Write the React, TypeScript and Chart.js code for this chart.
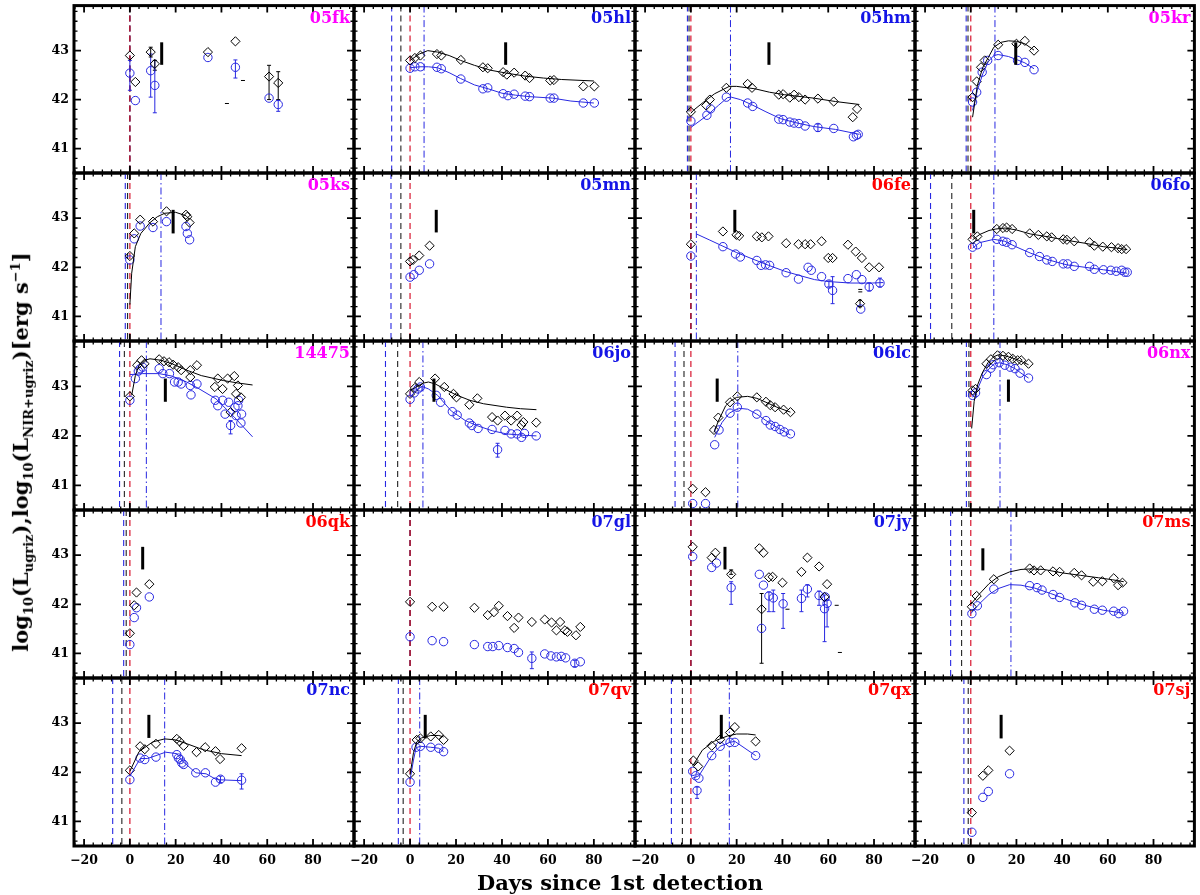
import React, { useEffect, useRef } from "react";
import { Chart, registerables } from "chart.js";
Chart.register(...registerables);

type P = [number, number];
type E = [number, number, number, string];

// ---------------- data (days since 1st detection, log10 L) ----------------
const sn05fk_nir: P[] = [[0,42.9],[2.4,42.36],[9.1,42.97],[10.9,42.73],[34.1,42.97],[46.1,43.19],[60.8,42.47],[64.8,42.34]];
const sn05fk_ug: P[] = [[0,42.54],[2.4,41.98],[9.1,42.59],[10.9,42.29],[34.1,42.86],[46.1,42.66],[60.8,42.03],[64.8,41.9]];
const sn05fk_err: E[] = [[0,42.19,42.8,"b"],[9.1,42.05,42.93,"b"],[10.9,41.73,42.8,"b"],[46.1,42.44,42.81,"b"],[64.8,41.76,41.98,"b"],[9.1,42.87,43.07,"k"],[10.9,42.6,42.8,"k"],[60.8,42.0,42.7,"k"],[64.8,42.0,42.57,"k"]];
const sn05fk_marks: P[] = [[49.4,42.39],[42.4,41.92]];

const sn05hl_nir: P[] = [[0,42.8],[2.1,42.85],[4.5,42.9],[11.7,42.93],[13.6,42.9],[22.1,42.81],[31.7,42.66],[33.8,42.64],[40.5,42.56],[42.1,42.51],[45.3,42.55],[50.1,42.49],[52,42.44],[61,42.39],[62.6,42.4],[75.4,42.27],[80.2,42.27]];
const sn05hl_ug: P[] = [[0,42.64],[2.1,42.67],[4.5,42.67],[11.7,42.66],[13.6,42.63],[22.1,42.42],[31.7,42.22],[33.8,42.24],[40.5,42.12],[42.6,42.08],[45.3,42.11],[50.1,42.07],[52,42.06],[61,42.03],[62.6,42.03],[75.4,41.93],[80.2,41.93]];
const sn05hl_fitNir: P[] = [[0,42.8],[4,42.93],[7.7,43.0],[12,42.97],[17,42.9],[22,42.8],[28,42.7],[35,42.6],[42,42.54],[50,42.48],[58,42.44],[66,42.41],[80,42.38]];
const sn05hl_fitUg: P[] = [[0,42.65],[4,42.67],[8,42.67],[12,42.65],[17,42.55],[22,42.43],[28,42.3],[34,42.22],[40,42.13],[46,42.09],[52,42.06],[62,42.03],[70,41.97],[80,41.93]];

const sn05hm_nir: P[] = [[0,41.75],[6.7,41.88],[8.3,42.0],[15.5,42.24],[24.8,42.32],[26.7,42.24],[38.4,42.1],[40.3,42.11],[43.2,42.04],[45.1,42.1],[47.2,42.05],[49.9,42.0],[55.5,42.02],[62.4,41.96],[70.7,41.64],[72.6,41.81]];
const sn05hm_ug: P[] = [[0,41.56],[7,41.68],[8.6,41.81],[15.5,42.05],[24.8,41.93],[27,41.86],[38.4,41.6],[40.3,41.59],[43.2,41.54],[45.1,41.52],[47.2,41.51],[49.9,41.46],[55.5,41.43],[62.4,41.41],[71,41.24],[72.3,41.27],[73.1,41.29]];
const sn05hm_fitNir: P[] = [[0,41.72],[1.1,41.78],[5.6,41.95],[10.4,42.12],[16.8,42.27],[20,42.27],[28,42.22],[34.4,42.15],[40.8,42.1],[53.6,42.03],[63.2,41.96],[73.6,41.9]];
const sn05hm_fitUg: P[] = [[0,41.43],[7.2,41.68],[12,41.88],[16,42.04],[17.6,42.05],[21.6,42.0],[26.4,41.9],[32.8,41.75],[39.2,41.61],[45.6,41.53],[53.6,41.45],[63.2,41.39],[73.6,41.29]];
const sn05hm_err: E[] = [[55.5,41.35,41.5,"b"]];

const sn05kr_nir: P[] = [[0.8,42.05],[2.6,42.37],[4.5,42.66],[6.1,42.8],[12,43.12],[20,43.14],[23.7,43.2],[27.7,43.0]];
const sn05kr_ug: P[] = [[0.8,41.95],[2.6,42.15],[5,42.56],[7.4,42.8],[12,42.9],[20.5,42.8],[23.7,42.76],[27.7,42.61]];
const sn05kr_fitNir: P[] = [[0.8,41.64],[2.9,42.29],[5.3,42.66],[7.7,42.86],[10.1,43.07],[13.3,43.17],[16.5,43.2],[20,43.19],[23.7,43.14],[27.7,43.01]];
const sn05kr_fitUg: P[] = [[0.8,41.78],[2.9,42.19],[5.3,42.53],[7.7,42.78],[10.1,42.9],[12,42.92],[16.5,42.88],[20.5,42.81],[23.7,42.75],[27.7,42.63]];

const sn05ks_nir: P[] = [[0,42.23],[1.9,42.69],[4.5,42.97],[10.1,42.93],[16,43.14],[24.5,43.07],[25.1,43.03],[26.1,42.91]];
const sn05ks_ug: P[] = [[0,42.15],[1.9,42.58],[4.5,42.84],[10.1,42.81],[16,42.93],[24.5,42.83],[25.1,42.69],[26.1,42.56]];
const sn05ks_fitNir: P[] = [[0,41.24],[0.8,41.88],[2.4,42.42],[4.8,42.69],[8.8,42.91],[12,43.03],[15.2,43.1],[20,43.12],[24.5,43.05],[26,42.98]];

const sn05mn_nir: P[] = [[0,42.12],[1.3,42.15],[4,42.24],[8.5,42.44]];
const sn05mn_ug: P[] = [[0,41.8],[1.6,41.85],[4,41.94],[8.5,42.07]];

const sn06fe_nir: P[] = [[0,42.47],[14,42.73],[19.9,42.66],[21.1,42.64],[28.8,42.63],[31,42.61],[33.9,42.63],[41.6,42.49],[47,42.47],[49.9,42.47],[52.3,42.47],[57.1,42.53],[60,42.19],[61.9,42.19],[68.6,42.46],[72,42.32],[74.7,42.19],[77.9,42.0],[82.2,42.0],[73.9,41.26]];
const sn06fe_ug: P[] = [[0,42.23],[14,42.42],[19.5,42.27],[21.6,42.21],[28.8,42.14],[30.7,42.04],[32.6,42.05],[34.4,42.04],[41.6,41.89],[47,41.76],[51.2,42.0],[52.6,41.94],[57.1,41.81],[60.3,41.66],[61.9,41.53],[68.6,41.77],[72.3,41.85],[74.7,41.75],[74.2,41.15],[77.9,41.6],[82.6,41.68]];
const sn06fe_fitUg: P[] = [[2.4,42.68],[8,42.56],[14,42.43],[20,42.3],[28,42.15],[34,42.04],[41,41.92],[47,41.84],[54,41.75],[60,41.71],[69.6,41.68],[79.2,41.68],[84,41.69]];
const sn06fe_err: E[] = [[61.9,41.26,41.81,"b"],[60.3,41.6,41.72,"b"],[77.9,41.52,41.68,"b"],[82.6,41.6,41.78,"b"],[73.9,41.2,41.33,"k"]];
const sn06fe_marks: P[] = [[74,41.55],[74,41.5]];

const sn06fo_nir: P[] = [[0.8,42.57],[2.9,42.63],[11.4,42.78],[14.1,42.8],[15.7,42.81],[18.1,42.78],[25.8,42.69],[29.6,42.66],[33.3,42.63],[35.4,42.61],[40.5,42.57],[42.1,42.56],[45.3,42.53],[52,42.51],[54.1,42.44],[57.8,42.42],[61.6,42.41],[64.5,42.39],[66.1,42.37],[68,42.37]];
const sn06fo_ug: P[] = [[0.8,42.41],[2.9,42.46],[11.4,42.57],[14.1,42.53],[15.7,42.51],[18.1,42.46],[25.8,42.3],[30.1,42.22],[33.3,42.15],[35.7,42.12],[40.5,42.07],[42.4,42.07],[45.3,42.02],[52,42.02],[54.1,41.96],[58.1,41.95],[61.3,41.94],[63.7,41.92],[66.1,41.94],[67.4,41.9],[68.5,41.9]];
const sn06fo_fitNir: P[] = [[0.8,42.56],[4,42.67],[8,42.75],[11,42.78],[15,42.8],[20,42.76],[26,42.68],[34,42.62],[42,42.55],[50,42.49],[58,42.42],[64,42.39],[68.5,42.36]];
const sn06fo_fitUg: P[] = [[0.8,42.39],[3.7,42.5],[10.1,42.57],[14.9,42.53],[19.7,42.42],[26.1,42.29],[34.1,42.15],[42.1,42.05],[50.1,42.0],[58.1,41.95],[68.5,41.88]];

const sn14475_nir: P[] = [[0,42.8],[3.2,43.43],[5.1,43.53],[6.4,43.46],[12.8,43.55],[14.9,43.51],[17.1,43.49],[18.9,43.44],[21.1,43.39],[22.4,43.33],[26.4,43.33],[29.3,43.43],[26.4,43.19],[38.4,43.16],[40.5,42.95],[42.7,43.16],[45.6,43.21],[37.1,42.99],[47.2,43.02],[48.5,42.78],[44,42.48],[46.4,42.85]];
const sn14475_ug: P[] = [[0,42.72],[2.4,43.16],[3.7,43.31],[4.5,43.36],[5.6,43.39],[12.8,43.36],[14.4,43.26],[17.3,43.26],[19.5,43.09],[21.1,43.09],[22.4,43.05],[26.4,43.02],[26.7,42.83],[29.3,43.05],[37.3,42.72],[38.4,42.61],[40.5,42.72],[41.6,42.44],[43.2,42.68],[44,42.21],[45.9,42.58],[46.4,42.41],[47.2,42.61],[47.5,42.72],[48.8,42.44],[48.5,42.26]];
const sn14475_fitNir: P[] = [[0.8,42.82],[2.4,43.22],[4,43.43],[6.4,43.53],[8.8,43.56],[13.6,43.53],[18.4,43.46],[24.8,43.33],[31.2,43.22],[40.8,43.12],[47.2,43.07],[53.6,43.03]];
const sn14475_fitUg: P[] = [[0,43.24],[5.6,43.26],[12.8,43.26],[18.4,43.21],[24.8,43.09],[29.6,42.97],[37.6,42.75],[45.6,42.38],[53.6,41.98]];
const sn14475_err: E[] = [[44,42.04,42.31,"b"]];

const sn06jo_nir: P[] = [[0,42.85],[2.1,42.97],[4,43.09],[10.9,43.16],[14.9,42.99],[18.9,42.85],[20.2,42.78],[25.8,42.63],[29.3,42.76],[35.7,42.38],[38.1,42.31],[41.3,42.41],[44,42.31],[46.6,42.41],[48.5,42.22],[49.3,42.28],[54.9,42.27]];
const sn06jo_ug: P[] = [[0,42.74],[1.8,42.87],[3.4,42.95],[4.5,42.99],[11.4,42.82],[13.3,42.68],[18.4,42.49],[20.5,42.42],[25.8,42.26],[26.9,42.21],[29.6,42.15],[35.7,42.13],[38.1,41.72],[41.3,42.11],[44,42.04],[46.6,42.04],[48.5,41.97],[49.8,42.05],[54.9,42.0]];
const sn06jo_fitNir: P[] = [[0,42.92],[3,43.0],[6,43.07],[8,43.09],[11,43.05],[15,42.95],[20,42.83],[26,42.72],[32,42.65],[42,42.58],[48,42.55],[55,42.53]];
const sn06jo_fitUg: P[] = [[0,42.78],[3,42.94],[5.2,43.0],[8,42.95],[12,42.82],[18,42.5],[20,42.44],[24,42.31],[29,42.21],[36,42.1],[42,42.04],[50,42.01],[55,42.0]];
const sn06jo_err: E[] = [[38.1,41.57,41.85,"b"]];

const sn06lc_nir: P[] = [[0.8,40.93],[6.4,40.86],[10.1,42.12],[12,42.37],[17.1,42.68],[20.3,42.8],[28.8,42.78],[32.8,42.69],[34.7,42.62],[36.8,42.58],[40.5,42.53],[43.5,42.48]];
const sn06lc_ug: P[] = [[0.8,40.63],[6.4,40.63],[10.4,41.82],[12.3,42.12],[17.1,42.46],[20.3,42.58],[28.8,42.44],[32.8,42.31],[34.7,42.22],[36.8,42.19],[38.9,42.13],[40.8,42.08],[43.5,42.04]];
const sn06lc_fitNir: P[] = [[10.1,42.07],[12,42.3],[15.2,42.61],[17.5,42.71],[20,42.78],[24.8,42.8],[28.8,42.76],[32.8,42.68],[37.6,42.58],[43.5,42.48]];
const sn06lc_fitUg: P[] = [[10.4,41.97],[13.6,42.27],[16.8,42.46],[20.8,42.56],[24.8,42.54],[28.8,42.44],[32.8,42.31],[37.6,42.17],[43.5,42.02]];

const sn06nx_nir: P[] = [[0.8,42.92],[2.1,42.95],[6.9,43.46],[8.8,43.55],[11.7,43.63],[14.1,43.62],[16.5,43.6],[18.4,43.56],[20.5,43.53],[22.1,43.53],[25.3,43.46]];
const sn06nx_ug: P[] = [[0.8,42.82],[2.1,42.87],[6.9,43.24],[8.8,43.37],[9.8,43.44],[12.5,43.48],[14.9,43.43],[17.3,43.39],[19.4,43.36],[21.6,43.27],[25.3,43.17]];
const sn06nx_fitNir: P[] = [[0.4,42.15],[1.5,42.7],[3,43.03],[5,43.27],[7.5,43.48],[10,43.6],[12,43.64],[15,43.62],[18,43.58],[21,43.53],[25.3,43.44]];
const sn06nx_fitUg: P[] = [[0.8,42.78],[3,42.95],[5.3,43.2],[8,43.36],[10.4,43.46],[12.5,43.48],[16,43.44],[19.4,43.36],[22,43.27],[25.3,43.17]];

const sn06qk_nir: P[] = [[0,41.41],[1.9,41.98],[2.9,42.24],[8.5,42.41]];
const sn06qk_ug: P[] = [[0,41.18],[1.9,41.73],[2.9,41.93],[8.5,42.15]];

const sn07gl_nir: P[] = [[0,42.05],[9.6,41.95],[14.6,41.95],[28,41.93],[33.8,41.78],[36.5,41.84],[38.6,41.97],[42.4,41.76],[45.3,41.52],[47.2,41.73],[53,41.64],[58.6,41.69],[61.6,41.63],[65.3,41.64],[63.7,41.47],[67.4,41.47],[68.5,41.44],[72.2,41.37],[74.1,41.54]];
const sn07gl_ug: P[] = [[0,41.34],[9.6,41.26],[14.6,41.24],[28,41.18],[33.8,41.14],[36,41.14],[38.6,41.16],[42.4,41.12],[45.3,41.1],[47.2,41.02],[53,40.9],[58.6,40.99],[61.3,40.95],[63.7,40.93],[65.8,40.94],[67.7,40.91],[71.7,40.8],[74.1,40.83]];
const sn07gl_err: E[] = [[53,40.69,41.03,"b"],[71.7,40.73,40.86,"b"]];

const sn07jy_nir: P[] = [[0.8,43.17],[9.1,42.95],[10.7,43.05],[17.6,42.61],[29.9,43.14],[31.7,43.05],[34.1,42.55],[35.7,42.56],[40,42.44],[30.9,41.9],[48.3,42.66],[50.9,42.95],[56,42.77],[59.5,42.41],[58.4,42.15]];
const sn07jy_ug: P[] = [[0.8,42.97],[9.1,42.75],[11.2,42.84],[17.6,42.34],[29.9,42.61],[31.7,42.39],[30.9,41.51],[34.1,42.17],[36,42.13],[40.3,42.01],[48.3,42.12],[50.9,42.31],[56,42.18],[58.4,41.91],[59.5,42.02],[58.7,42.15]];
const sn07jy_err: E[] = [[17.6,42.0,42.46,"b"],[30.9,40.8,42.22,"k"],[34.1,41.85,42.25,"b"],[36,41.85,42.29,"b"],[40.3,41.51,42.22,"b"],[48.3,41.85,42.29,"b"],[50.9,42.15,42.4,"b"],[56,41.98,42.27,"b"],[58.4,41.24,42.19,"b"],[59.5,41.54,42.08,"b"],[17.6,42.61,42.7,"k"]];
const sn07jy_marks: P[] = [[42.2,41.9],[63.7,41.98],[65.1,41.02]];

const sn07ms_nir: P[] = [[0.5,41.95],[2.6,42.17],[10.1,42.51],[25.8,42.73],[27.7,42.69],[30.6,42.69],[36,42.67],[38.9,42.66],[45.3,42.64],[48.5,42.59],[53.6,42.46],[57.6,42.47],[62.6,42.53],[64.5,42.39],[66.4,42.44]];
const sn07ms_ug: P[] = [[0.5,41.81],[2.9,41.97],[10.1,42.31],[25.8,42.38],[29,42.34],[31.2,42.29],[36,42.2],[38.9,42.14],[45.6,42.03],[48.5,41.98],[54.1,41.9],[57.6,41.88],[62.6,41.86],[64.8,41.81],[66.9,41.86]];
const sn07ms_fitNir: P[] = [[0,42.0],[4,42.22],[8,42.42],[12,42.56],[17,42.66],[22,42.71],[26,42.72],[32,42.71],[40,42.64],[48,42.59],[56,42.54],[62,42.5],[67,42.46]];
const sn07ms_fitUg: P[] = [[0,41.81],[4,42.02],[8,42.2],[12,42.32],[17,42.4],[22,42.39],[28,42.33],[35,42.22],[42,42.1],[50,41.98],[58,41.88],[64,41.84],[67,41.82]];

const sn07nc_nir: P[] = [[0,42.04],[4.5,42.53],[6.5,42.47],[11.4,42.58],[20.5,42.68],[21.7,42.63],[23.5,42.54],[29.1,42.41],[32.9,42.51],[37.4,42.43],[39.4,42.27],[48.8,42.49]];
const sn07nc_ug: P[] = [[0,41.85],[4.5,42.29],[6.5,42.26],[11.4,42.31],[20.5,42.36],[21.2,42.29],[22,42.26],[22.7,42.19],[23.5,42.16],[28.8,41.99],[33,41.99],[37.4,41.8],[39.6,41.86],[48.8,41.84]];
const sn07nc_fitNir: P[] = [[0,42.02],[4,42.42],[10,42.62],[15.2,42.68],[20,42.66],[25,42.58],[32,42.46],[40,42.38],[48.8,42.34]];
const sn07nc_fitUg: P[] = [[0,41.92],[4.5,42.28],[7.6,42.28],[11.4,42.34],[15.6,42.41],[20.5,42.38],[22.7,42.24],[28.8,41.99],[33.3,41.97],[37.9,41.85],[48.8,41.83]];
const sn07nc_err: E[] = [[48.8,41.66,41.97,"b"],[39.6,41.79,41.92,"b"]];

const sn07qv_nir: P[] = [[0,41.97],[2.9,42.66],[4.5,42.69],[9,42.73],[12.5,42.76],[14.6,42.66]];
const sn07qv_ug: P[] = [[0,41.8],[2.6,42.51],[4.5,42.53],[9,42.51],[12.5,42.49],[14.6,42.42]];
const sn07qv_fitNir: P[] = [[0,41.95],[1.5,42.4],[2.9,42.62],[5,42.7],[9,42.75],[12.5,42.75],[14.6,42.72]];
const sn07qv_fitUg: P[] = [[0,41.85],[1.5,42.25],[2.6,42.5],[4.5,42.53],[9,42.51],[12.5,42.49],[14.6,42.42]];

const sn07qx_nir: P[] = [[1.1,42.24],[3.2,42.12],[9.1,42.54],[12.8,42.67],[17.1,42.81],[19.2,42.92],[28.3,42.63]];
const sn07qx_ug: P[] = [[0.8,42.02],[2.1,41.93],[3.5,41.88],[2.7,41.63],[9.1,42.34],[12.8,42.53],[17.1,42.61],[19.2,42.61],[28.3,42.34]];
const sn07qx_fitNir: P[] = [[0.8,42.13],[5,42.45],[10,42.63],[16,42.74],[20,42.78],[24.8,42.78],[28.3,42.76]];
const sn07qx_fitUg: P[] = [[0.8,41.88],[3.5,41.93],[9.1,42.34],[12.8,42.53],[17.1,42.61],[19.2,42.63],[28.3,42.34]];
const sn07qx_err: E[] = [[2.7,41.47,41.7,"b"]];

const sn07sj_nir: P[] = [[0.5,41.18],[5.3,41.93],[7.7,42.04],[17,42.44]];
const sn07sj_ug: P[] = [[0.5,40.78],[5.3,41.49],[7.7,41.61],[17,41.97]];

// vertical lines: [blue dashed, black dashed, red dashed, blue dash-dot]; time markers [x, yTop, yBottom]
const VL_05fk = [0, 0, 0, null]; const BAR_05fk = [13.9, 43.17, 42.71];
const VL_05hl = [-8, -4, 0, 6.1]; const BAR_05hl = [41.6, 43.17, 42.71];
const VL_05hm = [-1.5, -0.8, 0, 17.3]; const BAR_05hm = [34.1, 43.17, 42.71];
const VL_05kr = [-2, -1.2, 0, 10.6]; const BAR_05kr = [19.7, 43.17, 42.71];
const VL_05ks = [-2, -1, 0, 13.6]; const BAR_05ks = [18.9, 43.17, 42.69];
const VL_05mn = [-8.3, -4, 0, null]; const BAR_05mn = [11.4, 43.17, 42.71];
const VL_06fe = [0, 0, 0, 2.4]; const BAR_06fe = [19.2, 43.17, 42.71];
const VL_06fo = [-17.6, -8.3, 0, 10.1]; const BAR_06fo = [1.3, 43.17, 42.69];
const VL_14475 = [-4.5, -2.4, 0, 7.2]; const BAR_14475 = [15.5, 43.16, 42.69];
const VL_06jo = [-10.7, -5.4, 0, 5.6]; const BAR_06jo = [10.4, 43.16, 42.69];
const VL_06lc = [-6.9, -3, 0, 20.5]; const BAR_06lc = [11.5, 43.16, 42.69];
const VL_06nx = [-1.9, -0.8, 0, 12.8]; const BAR_06nx = [16.5, 43.14, 42.69];
const VL_06qk = [-2.7, -1.6, 0, null]; const BAR_06qk = [5.6, 43.17, 42.71];
const VL_07gl = [0, 0, 0, null]; const BAR_07gl: number[] | null = null;
const VL_07jy = [0, 0, 0, null]; const BAR_07jy = [14.9, 43.17, 42.71];
const VL_07ms = [-8.8, -4, 0, 17.6]; const BAR_07ms = [5.3, 43.14, 42.69];
const VL_07nc = [-7.5, -3.5, 0, 15.2]; const BAR_07nc = [8.3, 43.17, 42.7];
const VL_07qv = [-5.1, -3, 0, 4.2]; const BAR_07qv = [6.6, 43.17, 42.69];
const VL_07qx = [-8.5, -3.7, 0, 16.8]; const BAR_07qx = [13.3, 43.17, 42.69];
const VL_07sj = [-3, -1.1, 0, null]; const BAR_07sj = [13.3, 43.17, 42.69];

const X_TICK_STEP = 20;
const Y_TICK_STEP = 1;

// ---------------- styles / layout ----------------
const MAG = "#ff00ff";
const BLU = "#1414e6";
const RED = "#ff0000";
const LINE_BLUE = "rgb(40,40,225)";
const FONT = '"DejaVu Serif", "Liberation Serif", serif';

const COLS = [74, 354, 635, 915, 1195];
const ROWS = [5, 173, 341, 510, 678, 846];
const X_MIN = -24.4, X_MAX = 97.9, Y_MIN = 40.5, Y_MAX = 43.92;

interface Panel {
  name: string; color: string; nir: P[]; ug: P[];
  fitNir?: P[]; fitUg?: P[]; err?: E[]; marks?: P[];
  bar: number[] | null; vl: (number | null)[];
}

const PANELS: Panel[] = [
  { name: "05fk", color: MAG, nir: sn05fk_nir, ug: sn05fk_ug, err: sn05fk_err, marks: sn05fk_marks, bar: BAR_05fk, vl: VL_05fk },
  { name: "05hl", color: BLU, nir: sn05hl_nir, ug: sn05hl_ug, fitNir: sn05hl_fitNir, fitUg: sn05hl_fitUg, bar: BAR_05hl, vl: VL_05hl },
  { name: "05hm", color: BLU, nir: sn05hm_nir, ug: sn05hm_ug, fitNir: sn05hm_fitNir, fitUg: sn05hm_fitUg, err: sn05hm_err, bar: BAR_05hm, vl: VL_05hm },
  { name: "05kr", color: MAG, nir: sn05kr_nir, ug: sn05kr_ug, fitNir: sn05kr_fitNir, fitUg: sn05kr_fitUg, bar: BAR_05kr, vl: VL_05kr },
  { name: "05ks", color: MAG, nir: sn05ks_nir, ug: sn05ks_ug, fitNir: sn05ks_fitNir, bar: BAR_05ks, vl: VL_05ks },
  { name: "05mn", color: BLU, nir: sn05mn_nir, ug: sn05mn_ug, bar: BAR_05mn, vl: VL_05mn },
  { name: "06fe", color: RED, nir: sn06fe_nir, ug: sn06fe_ug, fitUg: sn06fe_fitUg, err: sn06fe_err, marks: sn06fe_marks, bar: BAR_06fe, vl: VL_06fe },
  { name: "06fo", color: BLU, nir: sn06fo_nir, ug: sn06fo_ug, fitNir: sn06fo_fitNir, fitUg: sn06fo_fitUg, bar: BAR_06fo, vl: VL_06fo },
  { name: "14475", color: MAG, nir: sn14475_nir, ug: sn14475_ug, fitNir: sn14475_fitNir, fitUg: sn14475_fitUg, err: sn14475_err, bar: BAR_14475, vl: VL_14475 },
  { name: "06jo", color: BLU, nir: sn06jo_nir, ug: sn06jo_ug, fitNir: sn06jo_fitNir, fitUg: sn06jo_fitUg, err: sn06jo_err, bar: BAR_06jo, vl: VL_06jo },
  { name: "06lc", color: BLU, nir: sn06lc_nir, ug: sn06lc_ug, fitNir: sn06lc_fitNir, fitUg: sn06lc_fitUg, bar: BAR_06lc, vl: VL_06lc },
  { name: "06nx", color: MAG, nir: sn06nx_nir, ug: sn06nx_ug, fitNir: sn06nx_fitNir, fitUg: sn06nx_fitUg, bar: BAR_06nx, vl: VL_06nx },
  { name: "06qk", color: RED, nir: sn06qk_nir, ug: sn06qk_ug, bar: BAR_06qk, vl: VL_06qk },
  { name: "07gl", color: BLU, nir: sn07gl_nir, ug: sn07gl_ug, err: sn07gl_err, bar: BAR_07gl, vl: VL_07gl },
  { name: "07jy", color: BLU, nir: sn07jy_nir, ug: sn07jy_ug, err: sn07jy_err, marks: sn07jy_marks, bar: BAR_07jy, vl: VL_07jy },
  { name: "07ms", color: RED, nir: sn07ms_nir, ug: sn07ms_ug, fitNir: sn07ms_fitNir, fitUg: sn07ms_fitUg, bar: BAR_07ms, vl: VL_07ms },
  { name: "07nc", color: BLU, nir: sn07nc_nir, ug: sn07nc_ug, fitNir: sn07nc_fitNir, fitUg: sn07nc_fitUg, err: sn07nc_err, bar: BAR_07nc, vl: VL_07nc },
  { name: "07qv", color: RED, nir: sn07qv_nir, ug: sn07qv_ug, fitNir: sn07qv_fitNir, fitUg: sn07qv_fitUg, bar: BAR_07qv, vl: VL_07qv },
  { name: "07qx", color: RED, nir: sn07qx_nir, ug: sn07qx_ug, fitNir: sn07qx_fitNir, fitUg: sn07qx_fitUg, err: sn07qx_err, bar: BAR_07qx, vl: VL_07qx },
  { name: "07sj", color: RED, nir: sn07sj_nir, ug: sn07sj_ug, bar: BAR_07sj, vl: VL_07sj },
];

const toXY = (a: P[]) => a.map(([x, y]) => ({ x, y }));

function makeDecor(p: Panel) {
  return {
    id: "decor_" + p.name,
    beforeDatasetsDraw(chart: any) {
      const ctx = chart.ctx;
      const xs = chart.scales.x, ys = chart.scales.y;
      const { top, bottom } = chart.chartArea;
      ctx.save();
      const styles: [string, number[], number][] = [
        [LINE_BLUE, [6, 4], 1.1],
        ["#222", [6, 4], 1.1],
        ["rgba(215,20,45,0.85)", [6, 4], 1.4],
        [LINE_BLUE, [7, 3, 1.5, 3], 1],
      ];
      p.vl.forEach((v, i) => {
        if (v === null || v === undefined) return;
        const px = xs.getPixelForValue(v);
        ctx.strokeStyle = styles[i][0];
        ctx.setLineDash(styles[i][1]);
        ctx.lineWidth = styles[i][2];
        ctx.beginPath();
        ctx.moveTo(px, top);
        ctx.lineTo(px, bottom);
        ctx.stroke();
      });
      ctx.setLineDash([]);
      (p.err || []).forEach(([x, lo, hi, c]) => {
        const px = xs.getPixelForValue(x);
        const y1 = ys.getPixelForValue(lo), y2 = ys.getPixelForValue(hi);
        ctx.strokeStyle = c === "k" ? "#000" : LINE_BLUE;
        ctx.lineWidth = 1;
        ctx.beginPath();
        ctx.moveTo(px, y1); ctx.lineTo(px, y2);
        ctx.moveTo(px - 2, y1); ctx.lineTo(px + 2, y1);
        ctx.moveTo(px - 2, y2); ctx.lineTo(px + 2, y2);
        ctx.stroke();
      });
      ctx.restore();
    },
    afterDatasetsDraw(chart: any) {
      const ctx = chart.ctx;
      const xs = chart.scales.x, ys = chart.scales.y;
      const { left, right, top, bottom } = chart.chartArea;
      ctx.save();
      if (p.bar) {
        const px = xs.getPixelForValue(p.bar[0]);
        ctx.strokeStyle = "#000";
        ctx.lineWidth = 3;
        ctx.beginPath();
        ctx.moveTo(px, ys.getPixelForValue(p.bar[1]));
        ctx.lineTo(px, ys.getPixelForValue(p.bar[2]));
        ctx.stroke();
      }
      // ticks (inward, all four sides)
      ctx.strokeStyle = "#000";
      ctx.lineWidth = 1.8;
      const majX = xs.ticks.map((t: any) => t.value);
      const majY = ys.ticks.map((t: any) => t.value);
      ctx.beginPath();
      majX.forEach((v: number) => {
        const px = xs.getPixelForValue(v);
        ctx.moveTo(px, bottom); ctx.lineTo(px, bottom - 7);
        ctx.moveTo(px, top); ctx.lineTo(px, top + 7);
      });
      majY.forEach((v: number) => {
        const py = ys.getPixelForValue(v);
        ctx.moveTo(left, py); ctx.lineTo(left + 7, py);
        ctx.moveTo(right, py); ctx.lineTo(right - 7, py);
      });
      ctx.stroke();
      ctx.lineWidth = 1.3;
      ctx.beginPath();
      const stepMinX = X_TICK_STEP / 5;
      for (let k = Math.ceil(X_MIN / stepMinX); k * stepMinX <= X_MAX; k++) {
        if (k % 5 === 0) continue;
        const px = xs.getPixelForValue(k * stepMinX);
        ctx.moveTo(px, bottom); ctx.lineTo(px, bottom - 3.5);
        ctx.moveTo(px, top); ctx.lineTo(px, top + 3.5);
      }
      const stepMinY = Y_TICK_STEP / 5;
      for (let k = Math.ceil(Y_MIN / stepMinY); k * stepMinY <= Y_MAX + 1e-9; k++) {
        if (k % 5 === 0) continue;
        const py = ys.getPixelForValue(k * stepMinY);
        ctx.moveTo(left, py); ctx.lineTo(left + 3.5, py);
        ctx.moveTo(right, py); ctx.lineTo(right - 3.5, py);
      }
      ctx.stroke();
      // frame
      ctx.lineWidth = 3;
      ctx.strokeRect(left, top, right - left, bottom - top);
      // panel name
      ctx.fillStyle = p.color;
      ctx.font = "bold 16px " + FONT;
      ctx.textAlign = "right";
      ctx.textBaseline = "top";
      ctx.fillText(p.name, right - 4, top + 5);
      ctx.restore();
    },
  };
}

const M = 6;

function PanelChart({ p, r, c }: { p: Panel; r: number; c: number }) {
  const ref = useRef<HTMLCanvasElement>(null);
  const L = COLS[c], R = COLS[c + 1], T = ROWS[r], B = ROWS[r + 1];
  const isLeft = c === 0, isBottom = r === 4;
  const boxL = isLeft ? 0 : L - M;
  const boxT = Math.max(0, T - M);
  const boxR = Math.min(1200, R + M);
  const boxB = isBottom ? 895 : B + M;
  const w = boxR - boxL, h = boxB - boxT;

  useEffect(() => {
    if (!ref.current) return;
    const tickFont = { family: FONT, weight: "bold" as const, size: 12.5 };
    const datasets: any[] = [];
    if (p.fitNir) datasets.push({ data: toXY(p.fitNir), showLine: true, borderColor: "#000", borderWidth: 1, pointRadius: 0, tension: 0 });
    if (p.fitUg) datasets.push({ data: toXY(p.fitUg), showLine: true, borderColor: LINE_BLUE, borderWidth: 1, pointRadius: 0, tension: 0 });
    datasets.push({ data: toXY(p.nir), pointStyle: "rectRot", pointRadius: 4.6, borderColor: "#000", backgroundColor: "rgba(0,0,0,0)", borderWidth: 1 });
    datasets.push({ data: toXY(p.ug), pointStyle: "circle", pointRadius: 4.2, borderColor: LINE_BLUE, backgroundColor: "rgba(0,0,0,0)", borderWidth: 1 });
    if (p.marks) datasets.push({ data: toXY(p.marks), pointStyle: "line", pointRadius: 2, borderColor: "#000", borderWidth: 1 });

    const chart = new Chart(ref.current, {
      type: "scatter",
      data: { datasets },
      options: {
        animation: false,
        responsive: false,
        events: [],
        layout: {
          padding: {
            left: isLeft ? 4 : L - boxL,
            right: boxR - R,
            top: T - boxT,
            bottom: isBottom ? 4 : boxB - B,
          },
        },
        plugins: { legend: { display: false }, tooltip: { enabled: false } },
        scales: {
          x: {
            type: "linear", min: X_MIN, max: X_MAX, display: isBottom, position: "bottom",
            grid: { display: false, drawTicks: false }, border: { display: false },
            ticks: {
              stepSize: X_TICK_STEP, includeBounds: false, autoSkip: false, maxRotation: 0,
              font: tickFont, color: "#000", padding: 7,
              callback: (v: any) => (Number(v) < 0 ? "\u2212" + Math.abs(Number(v)) : String(v)),
            },
            afterFit: isBottom ? (s: any) => { s.height = boxB - B - 4; s.paddingLeft = 0; s.paddingRight = 0; } : undefined,
          },
          y: {
            type: "linear", min: Y_MIN, max: Y_MAX, display: isLeft, position: "left",
            grid: { display: false, drawTicks: false }, border: { display: false },
            ticks: {
              stepSize: Y_TICK_STEP, includeBounds: false, autoSkip: false,
              font: tickFont, color: "#000", padding: 5,
              callback: (v: any) => String(v),
            },
            afterFit: isLeft ? (s: any) => { s.width = L - 4; s.paddingTop = 0; s.paddingBottom = 0; } : undefined,
          },
        } as any,
      },
      plugins: [makeDecor(p)],
    });
    return () => chart.destroy();
  }, []);

  return (
    <canvas
      ref={ref}
      width={w}
      height={h}
      style={{ position: "absolute", left: boxL, top: boxT, width: w, height: h }}
    />
  );
}

export default function App() {
  const sub = { fontSize: "0.62em" };
  return (
    <div style={{ position: "absolute", left: 0, top: 0, width: 1200, height: 895, background: "#fff", overflow: "hidden" }}>
      {PANELS.map((p, i) => (
        <PanelChart key={p.name} p={p} r={Math.floor(i / 4)} c={i % 4} />
      ))}
      <div
        style={{
          position: "absolute", left: 22, top: 452,
          transform: "translate(-50%, -50%) rotate(-90deg)",
          whiteSpace: "nowrap", fontFamily: FONT, fontWeight: "bold", fontSize: 21, color: "#000", lineHeight: 1,
        }}
      >
        log<sub style={sub}>10</sub>(L<sub style={sub}>ugriz</sub>),log<sub style={sub}>10</sub>(L<sub style={sub}>NIR+ugriz</sub>)[erg s<sup style={sub}>−1</sup>]
      </div>
      <div
        style={{
          position: "absolute", left: 620, top: 882, transform: "translate(-50%, -50%)",
          whiteSpace: "nowrap", fontFamily: FONT, fontWeight: "bold", fontSize: 21, color: "#000",
        }}
      >
        Days since 1st detection
      </div>
    </div>
  );
}
